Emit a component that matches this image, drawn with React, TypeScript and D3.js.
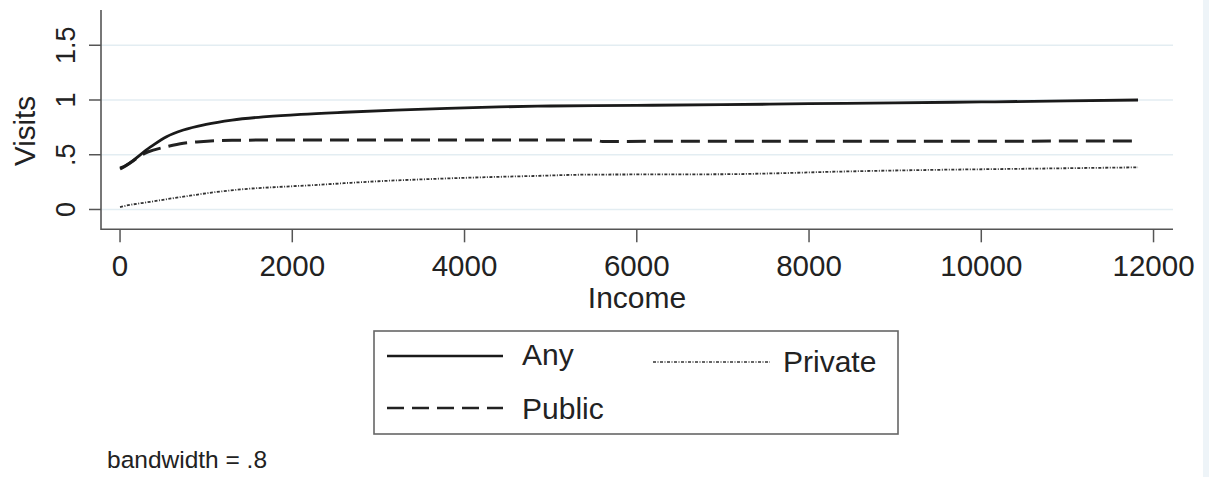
import React from "react";
import * as d3 from "d3";

const anyX = [0, 20, 350, 540, 735, 1000, 1300, 1700, 2100, 2600, 3200, 3800, 4400, 5000, 6000, 7000, 8000, 9000, 10000, 11000, 11820];
const anyY = [0.38, 0.385, 0.57, 0.665, 0.726, 0.778, 0.817, 0.848, 0.869, 0.888, 0.907, 0.923, 0.937, 0.945, 0.951, 0.957, 0.966, 0.974, 0.982, 0.992, 1.0];

const publicX = [0, 20, 320, 540, 735, 930, 1300, 2000, 3500, 5500, 5600, 8000, 11770];
const publicY = [0.37, 0.378, 0.525, 0.573, 0.605, 0.619, 0.632, 0.635, 0.635, 0.635, 0.622, 0.623, 0.625];

const privateX = [0, 20, 350, 735, 1120, 1500, 1900, 2300, 2600, 3000, 3600, 4200, 4800, 5400, 6000, 7000, 7600, 8300, 9300, 10500, 11820];
const privateY = [0.022, 0.026, 0.07, 0.117, 0.16, 0.19, 0.208, 0.225, 0.24, 0.258, 0.278, 0.294, 0.306, 0.318, 0.32, 0.322, 0.33, 0.345, 0.36, 0.372, 0.385];

const xTicks = [0, 2000, 4000, 6000, 8000, 10000, 12000];
const yTicks = [0, 0.5, 1, 1.5];
const yTickLabels = ["0", ".5", "1", "1.5"];

const FONT = "'Liberation Sans', Arial, Helvetica, sans-serif";

export default function App() {
  const left = 101, right = 1173, top = 10, bottom = 229.3;
  const x = d3.scaleLinear().domain([-221, 12226]).range([left, right]);
  const y = d3.scaleLinear().domain([-0.181, 1.822]).range([bottom, top]);

  const mk = (xs: number[], ys: number[]) =>
    d3.line<number>().x((_, i) => x(xs[i])).y((_, i) => y(ys[i])).curve(d3.curveMonotoneX)(xs.map((v) => v)) || "";

  const anyPath = mk(anyX, anyY);
  const pubPath = mk(publicX, publicY);
  const privPath = mk(privateX, privateY);

  return (
    <svg width={1209} height={477} style={{ position: "absolute", left: 0, top: 0, background: "#fff" }} fontFamily={FONT}>
      <rect x={0} y={0} width={1209} height={477} fill="#fff" />
      <rect x={1203} y={0} width={6} height={477} fill="#eef4f8" />
      {yTicks.map((t) => (
        <line key={"g" + t} x1={left} x2={right} y1={y(t)} y2={y(t)} stroke="#e3edf2" strokeWidth={1.5} />
      ))}
      <path d={privPath} fill="none" stroke="#333" strokeWidth={1.8} strokeDasharray="3,1.5,1,1.5" />
      <path d={pubPath} fill="none" stroke="#222" strokeWidth={3} strokeDasharray="19,8" />
      <path d={anyPath} fill="none" stroke="#1a1a1a" strokeWidth={2.8} />
      <line x1={left} x2={left} y1={top} y2={bottom + 0.8} stroke="#555" strokeWidth={1.6} />
      <line x1={left} x2={right} y1={bottom} y2={bottom} stroke="#555" strokeWidth={1.6} />
      {yTicks.map((t, i) => (
        <g key={"yt" + t}>
          <line x1={left - 12} x2={left} y1={y(t)} y2={y(t)} stroke="#555" strokeWidth={1.5} />
          <text transform={`translate(75,${y(t)}) rotate(-90)`} textAnchor="middle" fontSize={27} fill="#222">
            {yTickLabels[i]}
          </text>
        </g>
      ))}
      {xTicks.map((t) => (
        <g key={"xt" + t}>
          <line x1={x(t)} x2={x(t)} y1={bottom} y2={bottom + 13} stroke="#555" strokeWidth={1.5} />
          <text x={x(t)} y={276} textAnchor="middle" fontSize={29.5} fill="#222">
            {t}
          </text>
        </g>
      ))}
      <text x={(left + right) / 2} y={308} textAnchor="middle" fontSize={30} fill="#222">Income</text>
      <text transform={`translate(35,131) rotate(-90)`} textAnchor="middle" fontSize={29.5} fill="#222">Visits</text>

      <rect x={374} y={331} width={524} height={103} fill="#fff" stroke="#666" strokeWidth={1.6} />
      <line x1={387} x2={503} y1={356} y2={356} stroke="#1a1a1a" strokeWidth={2.6} />
      <text x={522} y={365} fontSize={30} fill="#222">Any</text>
      <line x1={387} x2={503} y1={408} y2={408} stroke="#222" strokeWidth={2.6} strokeDasharray="17,8" />
      <text x={522} y={419} fontSize={30} fill="#222">Public</text>
      <line x1={653} x2={770} y1={362} y2={362} stroke="#333" strokeWidth={1.5} strokeDasharray="3,1.5,1,1.5" />
      <text x={783} y={372} fontSize={30} fill="#222">Private</text>

      <text x={107} y={468} fontSize={24.5} fill="#222">bandwidth = .8</text>
    </svg>
  );
}
